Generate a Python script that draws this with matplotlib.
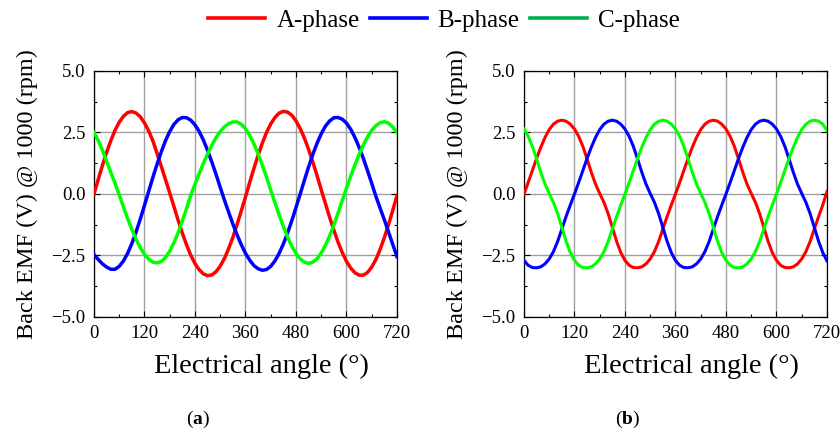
import numpy as np
import matplotlib.pyplot as plt
from matplotlib.lines import Line2D
from matplotlib.ticker import MultipleLocator

plt.rcParams['font.family'] = 'Liberation Serif'
plt.rcParams['mathtext.fontset'] = 'custom'
plt.rcParams['mathtext.rm'] = 'Liberation Serif'
plt.rcParams['mathtext.bf'] = 'Liberation Serif:bold'

# electrical angle, degrees
angle = np.arange(0, 721, 10)

# (a) measured back EMF
emf_a_A = [0.00, 0.59, 1.16, 1.69, 2.17, 2.59, 2.92, 3.16, 3.31, 3.35,
           3.29, 3.14, 2.89, 2.56, 2.16, 1.64, 1.12, 0.58, 0.04,
           -0.51, -1.07, -1.59, -2.07, -2.49, -2.83, -3.08, -3.25, -3.32,
           -3.29, -3.16, -2.93, -2.62, -2.22, -1.76, -1.24, -0.69, -0.12,
           0.47, 1.04, 1.58, 2.07, 2.50, 2.85, 3.11, 3.29, 3.36,
           3.33, 3.20, 2.97, 2.66, 2.27, 1.81, 1.30, 0.75, 0.17,
           -0.39, -0.95, -1.47, -1.96, -2.38, -2.74, -3.01, -3.20, -3.30,
           -3.30, -3.19, -2.97, -2.66, -2.25, -1.77, -1.24, -0.66, -0.06]
emf_a_B = [-2.46, -2.66, -2.84, -2.97, -3.06, -3.06, -2.94, -2.72, -2.41, -2.01,
           -1.54, -1.02, -0.46, 0.11, 0.68, 1.22, 1.72, 2.17, 2.54,
           2.83, 3.02, 3.11, 3.10, 3.00, 2.81, 2.54, 2.19, 1.77,
           1.30, 0.80, 0.27, -0.25, -0.74, -1.22, -1.66, -2.06, -2.41,
           -2.69, -2.91, -3.04, -3.10, -3.07, -2.94, -2.72, -2.41, -2.03,
           -1.58, -1.09, -0.55, 0.00, 0.56, 1.10, 1.61, 2.06, 2.45,
           2.76, 2.97, 3.10, 3.11, 3.04, 2.88, 2.63, 2.30, 1.90,
           1.45, 0.95, 0.43, -0.10, -0.58, -1.05, -1.55, -2.05, -2.55]
emf_a_C = [2.50, 2.17, 1.78, 1.33, 0.88, 0.43, -0.04, -0.53, -1.00, -1.44,
           -1.84, -2.18, -2.45, -2.65, -2.77, -2.80, -2.74, -2.58, -2.32,
           -1.98, -1.57, -1.09, -0.59, -0.05, 0.40, 0.83, 1.25, 1.63,
           1.98, 2.29, 2.54, 2.73, 2.86, 2.93, 2.93, 2.84, 2.65,
           2.38, 2.04, 1.63, 1.17, 0.68, 0.16, -0.35, -0.85, -1.32,
           -1.75, -2.12, -2.42, -2.64, -2.77, -2.82, -2.77, -2.63, -2.40,
           -2.08, -1.70, -1.26, -0.77, -0.26, 0.24, 0.72, 1.18, 1.61,
           1.99, 2.32, 2.59, 2.78, 2.90, 2.94, 2.88, 2.72, 2.50]

# (b) simulated back EMF
emf_b_A = [0.00, 0.47, 0.96, 1.45, 1.90, 2.30, 2.62, 2.84, 2.96, 3.00,
           2.96, 2.84, 2.64, 2.34, 1.93, 1.42, 0.88, 0.40, 0.02,
           -0.34, -0.80, -1.36, -1.92, -2.38, -2.70, -2.90, -2.99, -3.00,
           -2.96, -2.84, -2.64, -2.34, -1.93, -1.42, -0.92, -0.45, 0.00,
           0.47, 0.96, 1.45, 1.90, 2.30, 2.62, 2.84, 2.96, 3.00,
           2.96, 2.84, 2.64, 2.34, 1.93, 1.42, 0.88, 0.40, 0.02,
           -0.34, -0.80, -1.36, -1.92, -2.38, -2.70, -2.90, -2.99, -3.00,
           -2.96, -2.84, -2.64, -2.34, -1.93, -1.42, -0.92, -0.45, 0.10]
emf_b_B = [-2.70, -2.90, -2.99, -3.00, -2.96, -2.84, -2.64, -2.34, -1.93, -1.42,
           -0.92, -0.45, 0.00, 0.47, 0.96, 1.45, 1.90, 2.30, 2.62,
           2.84, 2.96, 3.00, 2.96, 2.84, 2.64, 2.34, 1.93, 1.42,
           0.88, 0.40, 0.02, -0.34, -0.80, -1.36, -1.92, -2.38, -2.70,
           -2.90, -2.99, -3.00, -2.96, -2.84, -2.64, -2.34, -1.93, -1.42,
           -0.92, -0.45, 0.00, 0.47, 0.96, 1.45, 1.90, 2.30, 2.62,
           2.84, 2.96, 3.00, 2.96, 2.84, 2.64, 2.34, 1.93, 1.42,
           0.88, 0.40, 0.02, -0.34, -0.80, -1.36, -1.92, -2.38, -2.72]
emf_b_C = [2.64, 2.34, 1.93, 1.42, 0.88, 0.40, 0.02, -0.34, -0.80, -1.36,
           -1.92, -2.38, -2.70, -2.90, -2.99, -3.00, -2.96, -2.84, -2.64,
           -2.34, -1.93, -1.42, -0.92, -0.45, 0.00, 0.47, 0.96, 1.45,
           1.90, 2.30, 2.62, 2.84, 2.96, 3.00, 2.96, 2.84, 2.64,
           2.34, 1.93, 1.42, 0.88, 0.40, 0.02, -0.34, -0.80, -1.36,
           -1.92, -2.38, -2.70, -2.90, -2.99, -3.00, -2.96, -2.84, -2.64,
           -2.34, -1.93, -1.42, -0.92, -0.45, 0.00, 0.47, 0.96, 1.45,
           1.90, 2.30, 2.62, 2.84, 2.96, 3.00, 2.96, 2.84, 2.58]

phase_names = ['A-phase', 'B-phase', 'C-phase']
line_colors = ['#ff0000', '#0000ff', '#00ff00']
legend_colors = ['#ff0000', '#0000ff', '#00b050']

fig = plt.figure(figsize=(8.4, 4.3), dpi=100)
ax_a = fig.add_axes([0.1119, 0.2628, 0.3607, 0.5721])
ax_b = fig.add_axes([0.6238, 0.2628, 0.3607, 0.5721])

# measured traces are a little fuzzier, so they get a slightly heavier line
panels = [(ax_a, [emf_a_A, emf_a_B, emf_a_C], 2.5),
          (ax_b, [emf_b_A, emf_b_B, emf_b_C], 2.2)]
for ax, series, lw in panels:
    for values, col in zip(series, line_colors):
        ax.plot(angle, values, color=col, lw=lw, solid_joinstyle='round', zorder=3)
    ax.set_xlim(0, 720)
    ax.set_ylim(-5, 5)
    ax.set_xticks(np.arange(0, 721, 120))
    ax.set_yticks([-5, -2.5, 0, 2.5, 5])
    ax.xaxis.set_minor_locator(MultipleLocator(60))
    ax.yaxis.set_minor_locator(MultipleLocator(1.25))
    ax.grid(True, which='major', color='#a0a0a0', lw=1.0)
    ax.tick_params(which='both', direction='in', top=True, right=True,
                   labelsize=13.5, pad=6, width=0.8)
    ax.tick_params(which='major', length=4)
    ax.tick_params(which='minor', length=2.5)
    for sp in ax.spines.values():
        sp.set_linewidth(0.9)
    ax.set_xlabel('Electrical angle (°)', fontsize=20.5)
    ax.xaxis.set_label_coords(0.551, -0.15)
    ax.set_ylabel('Back EMF (V) @ 1000 (rpm)', fontsize=17.5)
    ax.yaxis.set_label_coords(-0.185, 0.5)

fig.text(198 / 840, 1 - 419 / 430, r'($\mathbf{a}$)', ha='center', va='center', fontsize=14)
fig.text(628 / 840, 1 - 419 / 430, r'($\mathbf{b}$)', ha='center', va='center', fontsize=14)

handles = [Line2D([], [], color=c, lw=2.6) for c in legend_colors]
fig.legend(handles, phase_names, loc='center', bbox_to_anchor=(0.5286, 0.952), ncol=3,
           frameon=False, fontsize=18, handlelength=2.28, handletextpad=0.44,
           columnspacing=0.4)

fig.savefig('out.png', dpi=100)
